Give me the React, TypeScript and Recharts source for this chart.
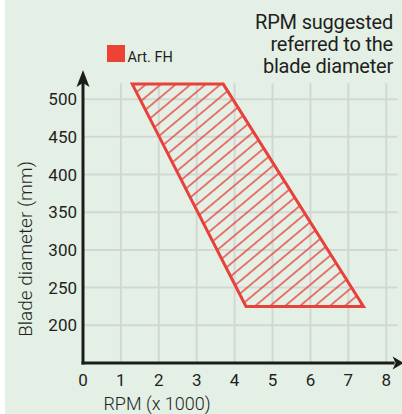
import React from 'react';
import { ComposedChart, XAxis, YAxis, Scatter, ReferenceLine } from 'recharts';

// ---- data ----
const rpmTicks = [0, 1, 2, 3, 4, 5, 6, 7, 8];
const diameterTicks = [200, 250, 300, 350, 400, 450, 500];
const artFhRegion = [
  { rpm: 1.3, diameter: 520 },
  { rpm: 3.7, diameter: 520 },
  { rpm: 7.4, diameter: 225 },
  { rpm: 4.3, diameter: 225 },
];
const seriesName = 'Art. FH';
const titleLines = ['RPM suggested', 'referred to the', 'blade diameter'];
const xAxisTitle = 'RPM (x 1000)';
const yAxisTitle = 'Blade diameter (mm)';
const xDomain = [0, 8.3];
const yDomain = [150, 540];
const gridTop = 521;
const gridXs = [1, 2, 3, 4, 5, 6, 7, 8];

// ---- styles ----
const FONT = "Roboto, 'Liberation Sans', sans-serif";
const RED = '#e8403a';
const LEGEND_RED = '#ee4136';
const AXIS = '#1c1c1c';
const GRID = '#d3d7d3';
const BG = '#e4f0e6';
const TEXT = '#231f20';

const renderRegion = (props: any) => {
  const pts: { x: number; y: number }[] = props.points || [];
  const d = pts.map((p) => `${p.x},${p.y}`).join(' ');
  return (
    <g>
      <defs>
        <pattern
          id="fhHatch"
          patternUnits="userSpaceOnUse"
          width="9.6"
          height="9.6"
          patternTransform="rotate(-40)"
        >
          <line x1="0" y1="4.8" x2="9.6" y2="4.8" stroke={RED} strokeWidth="1.4" />
        </pattern>
      </defs>
      <polygon points={d} fill="url(#fhHatch)" stroke={RED} strokeWidth={3} strokeLinejoin="miter" />
    </g>
  );
};

const XArrowAxis = (p: any) => {
  const { x1, y1, x2, y2 } = p;
  return (
    <g>
      <line x1={x1 - 1.5} y1={y1} x2={x2 - 3} y2={y2} stroke={AXIS} strokeWidth={3} />
      <polygon
        points={`${x2 + 6},${y2} ${x2 - 5},${y2 - 6.5} ${x2 - 2},${y2} ${x2 - 5},${y2 + 6.5}`}
        fill={AXIS}
      />
    </g>
  );
};

const YArrowAxis = (p: any) => {
  const { x1, y1, x2, y2 } = p;
  const top = Math.min(y1, y2);
  const bottom = Math.max(y1, y2);
  return (
    <g>
      <line x1={x1} y1={bottom + 1.5} x2={x2} y2={top + 14} stroke={AXIS} strokeWidth={3} />
      <polygon
        points={`${x2},${top + 1} ${x2 - 6.5},${top + 18} ${x2},${top + 14} ${x2 + 6.5},${top + 18}`}
        fill={AXIS}
      />
    </g>
  );
};

const XTitle = () => (
  <text x={157} y={410} textAnchor="middle" fontFamily={FONT} fontSize={18} fontWeight={300} fill={TEXT}>
    {xAxisTitle}
  </text>
);

const YTitle = () => (
  <text
    x={0}
    y={0}
    transform="translate(32,249) rotate(-90)"
    textAnchor="middle"
    fontFamily={FONT}
    fontSize={19}
    fontWeight={300}
    fill={TEXT}
  >
    {yAxisTitle}
  </text>
);

export default function App() {
  return (
    <div style={{ position: 'absolute', left: 0, top: 0, width: 402, height: 414, background: '#fff' }}>
      <div style={{ position: 'absolute', left: 5, top: 0, width: 397, height: 414, background: BG }} />
      <div style={{ position: 'absolute', left: 0, top: 0 }}>
        <ComposedChart width={402} height={414} margin={{ top: 69, right: 4.4, bottom: 0, left: 43 }}>
          <XAxis
            type="number"
            dataKey="rpm"
            domain={xDomain}
            ticks={rpmTicks}
            allowDataOverflow
            axisLine={false}
            tickLine={false}
            tickMargin={5}
            height={51}
            tick={{ fontSize: 17, fill: TEXT, fontFamily: FONT }}
            label={<XTitle />}
          />
          <YAxis
            type="number"
            dataKey="diameter"
            domain={yDomain}
            ticks={diameterTicks}
            allowDataOverflow
            axisLine={false}
            tickLine={false}
            tickMargin={0}
            width={40}
            tick={{ fontSize: 17, fill: TEXT, fontFamily: FONT }}
            label={<YTitle />}
          />
          {diameterTicks.map((v) => (
            <ReferenceLine key={'h' + v} y={v} stroke={GRID} strokeWidth={2} ifOverflow="visible" />
          ))}
          {gridXs.map((v) => (
            <ReferenceLine
              key={'v' + v}
              segment={[
                { x: v, y: yDomain[0] },
                { x: v, y: gridTop },
              ]}
              stroke={GRID}
              strokeWidth={2}
              ifOverflow="visible"
            />
          ))}
          <Scatter
            name={seriesName}
            data={artFhRegion}
            fill={RED}
            line={renderRegion}
            lineType="joint"
            shape={() => <g />}
            isAnimationActive={false}
          />
          <ReferenceLine
            segment={[
              { x: xDomain[0], y: yDomain[0] },
              { x: xDomain[1], y: yDomain[0] },
            ]}
            ifOverflow="visible"
            shape={XArrowAxis}
          />
          <ReferenceLine
            segment={[
              { x: xDomain[0], y: yDomain[0] },
              { x: xDomain[0], y: yDomain[1] },
            ]}
            ifOverflow="visible"
            shape={YArrowAxis}
          />
        </ComposedChart>
      </div>
      <svg
        width={402}
        height={414}
        style={{ position: 'absolute', left: 0, top: 0, pointerEvents: 'none' }}
      >
        <rect x={107} y={45} width={18} height={17} fill={LEGEND_RED} />
        <text x={127.5} y={62} fontFamily={FONT} fontSize={14.5} fill={TEXT}>
          {seriesName}
        </text>
        {titleLines.map((t, i) => (
          <text
            key={t}
            x={393}
            y={29 + i * 22}
            textAnchor="end"
            fontFamily={FONT}
            fontSize={20}
            letterSpacing={-0.2}
            fill={TEXT}
          >
            {t}
          </text>
        ))}
      </svg>
    </div>
  );
}
